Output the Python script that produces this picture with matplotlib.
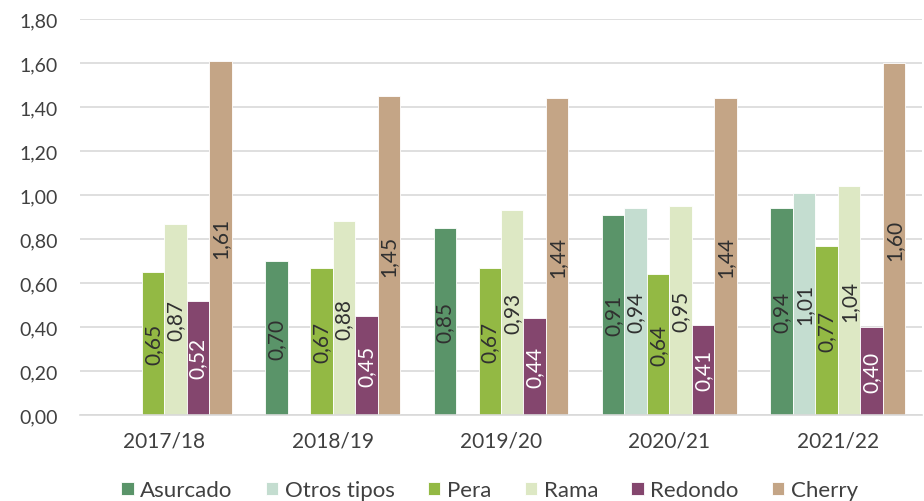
import numpy as np
import matplotlib
matplotlib.use("Agg")
import matplotlib.pyplot as plt

campaigns = ["2017/18", "2018/19", "2019/20", "2020/21", "2021/22"]
series = ["Asurcado", "Otros tipos", "Pera", "Rama", "Redondo", "Cherry"]
asurcado = [np.nan, 0.70, 0.85, 0.91, 0.94]
otros_tipos = [np.nan, np.nan, np.nan, 0.94, 1.01]
pera = [0.65, 0.67, 0.67, 0.64, 0.77]
rama = [0.87, 0.88, 0.93, 0.95, 1.04]
redondo = [0.52, 0.45, 0.44, 0.41, 0.40]
cherry = [1.61, 1.45, 1.44, 1.44, 1.60]

colors = ["#5a9469", "#c4ddd0", "#93b944", "#dde8c4", "#84466e", "#c4a586"]
label_colors = ["#303030", "#303030", "#303030", "#303030", "#ffffff", "#303030"]

plt.rcParams["font.family"] = ["Lato", "DejaVu Sans"]

fig = plt.figure(figsize=(9.24, 5.02), dpi=100)
ax = fig.add_axes([80 / 924, 1 - 416 / 502, (922 - 80) / 924, (416 - 20) / 502])

x = np.arange(len(campaigns))
width = 0.8 / len(series)
data = [asurcado, otros_tipos, pera, rama, redondo, cherry]
for i, (name, vals) in enumerate(zip(series, data)):
    pos = x - 0.4 + width * (i + 0.5)
    vals = np.array(vals, dtype=float)
    ax.bar(pos, vals, width, color=colors[i], edgecolor="white", linewidth=0.6,
           label=name, zorder=2)
    for p, v in zip(pos, vals):
        if np.isnan(v):
            continue
        ax.text(p, v / 2, f"{v:.2f}".replace(".", ","), rotation=90,
                ha="center", va="center", fontsize=15, color=label_colors[i],
                zorder=3)

ax.set_xlim(-0.5, len(campaigns) - 0.5)
ax.set_ylim(0, 1.8)
ticks = np.arange(0, 1.81, 0.2)
ax.set_yticks(ticks)
ax.set_yticklabels([f"{t:.2f}".replace(".", ",") for t in ticks])
ax.set_xticks(x)
ax.set_xticklabels(campaigns)
ax.tick_params(axis="both", length=0, colors="#404040")
ax.tick_params(axis="x", labelsize=15, pad=11)
ax.tick_params(axis="y", labelsize=14, pad=16)
ax.grid(axis="y", color="#d9d9d9", linewidth=1.2, zorder=0)
for side in ["top", "right", "left"]:
    ax.spines[side].set_visible(False)
ax.spines["bottom"].set_color("#d9d9d9")
ax.spines["bottom"].set_linewidth(1.2)

fig.legend(loc="lower center", bbox_to_anchor=(0.53, -0.038), ncol=6,
           frameon=False, fontsize=16, handlelength=0.55, handleheight=0.55,
           handletextpad=0.3, columnspacing=1.5, labelcolor="#404040")

fig.savefig("out.png", dpi=100)
